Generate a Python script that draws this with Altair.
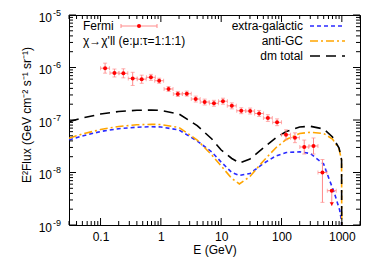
import altair as alt
import pandas as pd

# ---------------- data ----------------
fermi_E = [0.119, 0.170, 0.239, 0.341, 0.481, 0.684, 0.937, 1.34, 1.91, 2.69, 3.78, 5.32, 7.58,
           10.7, 15.0, 21.5, 30.2, 42.5, 59.4, 84.4, 118.7, 167, 238, 339, 477]
fermi_Elo = [0.100, 0.143, 0.202, 0.288, 0.406, 0.577, 0.790, 1.13, 1.61, 2.27, 3.19, 4.49, 6.39,
             9.02, 12.6, 18.1, 25.5, 35.8, 50.1, 71.2, 100, 141, 201, 286, 402]
fermi_Ehi = [0.141, 0.202, 0.283, 0.404, 0.570, 0.811, 1.111, 1.59, 2.27, 3.19, 4.48, 6.31, 8.99,
             12.7, 17.8, 25.5, 35.8, 50.4, 70.4, 100, 141, 198, 282, 402, 566]
fermi_F = [9.7e-7, 7.85e-7, 7.75e-7, 6.2e-7, 6.0e-7, 6.5e-7, 5.6e-7, 3.9e-7, 3.13e-7, 3.17e-7,
           2.51e-7, 2.2e-7, 2.08e-7, 2.28e-7, 1.86e-7, 1.5e-7, 1.48e-7, 1.33e-7, 1.09e-7, 9.04e-8,
           5.25e-8, 4.6e-8, 3.06e-8, 3.2e-8, 1.0e-8]
fermi_Flo = [7.8e-7, 6.6e-7, 6.35e-7, 4.55e-7, 5.0e-7, 5.7e-7, 5.0e-7, 3.5e-7, 2.8e-7, 2.85e-7,
             2.2e-7, 1.93e-7, 1.83e-7, 2.0e-7, 1.63e-7, 1.32e-7, 1.3e-7, 1.17e-7, 9.4e-8, 7.8e-8,
             4.2e-8, 3.7e-8, 2.25e-8, 2.25e-8, 2.7e-9]
fermi_Fhi = [1.21e-6, 9.35e-7, 9.45e-7, 8.1e-7, 7.15e-7, 7.4e-7, 6.25e-7, 4.35e-7, 3.5e-7, 3.55e-7,
             2.85e-7, 2.5e-7, 2.37e-7, 2.6e-7, 2.12e-7, 1.71e-7, 1.69e-7, 1.52e-7, 1.26e-7, 1.05e-7,
             6.5e-8, 5.7e-8, 4.15e-8, 4.55e-8, 1.77e-8]

# upper limit point
ul_E = [681]
ul_Elo = [574]
ul_Ehi = [808]
ul_F = [4.5e-9]
ul_Fend = [2.3e-9]

# model curves
eg_E = [0.03, 0.05, 0.1, 0.2, 0.4, 0.7, 1, 2, 4, 7, 10, 15, 20, 30, 50, 80, 120, 200, 300, 500,
        615, 740, 920, 990, 1000]
eg_F = [4.16e-8, 4.96e-8, 6.04e-8, 6.83e-8, 7.29e-8, 7.45e-8, 7.36e-8, 6.45e-8, 3.98e-8, 2.45e-8,
        1.58e-8, 1.0e-8, 8.77e-9, 9.57e-9, 1.48e-8, 2.06e-8, 2.4e-8, 2.48e-8, 2.3e-8, 1.45e-8,
        7.5e-9, 4.3e-9, 1.93e-9, 1.16e-9, 1e-10]

gc_E = [0.03, 0.05, 0.1, 0.2, 0.4, 0.7, 1, 2, 4, 7, 10, 15, 20, 30, 50, 80, 120, 200, 300, 500,
        700, 900, 990, 1000]
gc_F = [4.48e-8, 5.41e-8, 6.59e-8, 7.52e-8, 8.1e-8, 8.28e-8, 8.2e-8, 7.2e-8, 4.16e-8, 2.15e-8,
        1.33e-8, 7.7e-9, 6.04e-9, 8.4e-9, 1.66e-8, 2.93e-8, 4.26e-8, 5.53e-8, 5.83e-8, 5.53e-8,
        4.35e-8, 2.8e-8, 1.7e-8, 1e-10]

dm_E = [0.03, 0.05, 0.1, 0.2, 0.4, 0.7, 1, 2, 4, 7, 10, 15, 20, 30, 50, 80, 120, 200, 300, 500,
        700, 900, 990, 1000]
dm_F = [9.29e-8, 1.09e-7, 1.30e-7, 1.45e-7, 1.53e-7, 1.55e-7, 1.52e-7, 1.30e-7, 7.8e-8, 4.35e-8,
        2.68e-8, 1.85e-8, 1.52e-8, 1.81e-8, 2.93e-8, 4.54e-8, 6.04e-8, 7.36e-8, 7.59e-8, 6.74e-8,
        4.74e-8, 2.93e-8, 1.75e-8, 1e-10]

series_names = ["extra-galactic", "anti-GC", "dm total"]
series_colors = ["#2a2aff", "#ffa500", "#000000"]
series_dash = [[4, 3], [8, 3, 2, 3], [10, 6]]

x_major = [0.1, 1, 10, 100, 1000]
y_exps = [-9, -8, -7, -6, -5]

# ---------------- tables ----------------
W, H = 291, 210
FONT = "Liberation Sans"
ERR = "#ff8a8a"

curves = []
for name, Es, Fs in [("extra-galactic", eg_E, eg_F), ("anti-GC", gc_E, gc_F), ("dm total", dm_E, dm_F)]:
    for i, (e, f) in enumerate(zip(Es, Fs)):
        curves.append({"series": name, "E": e, "F": f, "order": i})
curves = pd.DataFrame(curves)

pts = pd.DataFrame({"E": fermi_E, "Elo": fermi_Elo, "Ehi": fermi_Ehi,
                    "F": fermi_F, "Flo": fermi_Flo, "Fhi": fermi_Fhi})
ul = pd.DataFrame({"E": ul_E, "Elo": ul_Elo, "Ehi": ul_Ehi, "F": ul_F, "Fend": ul_Fend})

x_minor = [k * 10.0 ** d for d in range(-2, 4) for k in range(2, 10) if 0.03 <= k * 10.0 ** d <= 2000]
y_major = [10.0 ** e for e in y_exps]
y_minor = [k * 10.0 ** d for d in range(-9, -5) for k in range(2, 10)]

xs = alt.Scale(type="log", domain=[0.03, 2000])
ys = alt.Scale(type="log", domain=[1e-9, 1e-5])

xaxis = alt.Axis(values=x_major, labelExpr="datum.value < 1 ? '0.1' : format(datum.value, 'd')",
                 ticks=False, domain=False, grid=False, labelFontSize=12, titleFontSize=12,
                 labelPadding=6, titlePadding=2, titleFontWeight="normal", labelColor="black",
                 titleColor="black", labelFont=FONT, titleFont=FONT, labelFlush=False)


def X(field):
    return alt.X(field, scale=xs, axis=xaxis, title="E (GeV)")


def Y(field):
    return alt.Y(field, scale=ys, axis=None)


# ---------------- layers ----------------
curve_layer = alt.Chart(curves).mark_line(clip=True, strokeWidth=1.6).encode(
    x=X("E:Q"),
    y=Y("F:Q"),
    color=alt.Color("series:N", scale=alt.Scale(domain=series_names, range=series_colors), legend=None),
    strokeDash=alt.StrokeDash("series:N", scale=alt.Scale(domain=series_names, range=series_dash), legend=None),
    order="order:Q",
)

base_pts = alt.Chart(pts)
vbar = base_pts.mark_rule(color=ERR, strokeWidth=1).encode(x=X("E:Q"), y=Y("Flo:Q"), y2="Fhi:Q")
hbar = base_pts.mark_rule(color=ERR, strokeWidth=1).encode(x=X("Elo:Q"), x2="Ehi:Q", y=Y("F:Q"))
cap_lo = base_pts.mark_tick(color=ERR, orient="horizontal", size=4, thickness=1).encode(x=X("E:Q"), y=Y("Flo:Q"))
cap_hi = base_pts.mark_tick(color=ERR, orient="horizontal", size=4, thickness=1).encode(x=X("E:Q"), y=Y("Fhi:Q"))
cap_l = base_pts.mark_tick(color=ERR, orient="vertical", size=4, thickness=1).encode(x=X("Elo:Q"), y=Y("F:Q"))
cap_r = base_pts.mark_tick(color=ERR, orient="vertical", size=4, thickness=1).encode(x=X("Ehi:Q"), y=Y("F:Q"))
dots = base_pts.mark_point(shape="circle", filled=True, size=16, color="#ff0000", opacity=1).encode(
    x=X("E:Q"), y=Y("F:Q"))

base_ul = alt.Chart(ul)
ul_v = base_ul.mark_rule(color=ERR, strokeWidth=1).encode(x=X("E:Q"), y=Y("F:Q"), y2="Fend:Q")
ul_h = base_ul.mark_rule(color=ERR, strokeWidth=1).encode(x=X("Elo:Q"), x2="Ehi:Q", y=Y("F:Q"))
ul_cl = base_ul.mark_tick(color=ERR, orient="vertical", size=4, thickness=1).encode(x=X("Elo:Q"), y=Y("F:Q"))
ul_cr = base_ul.mark_tick(color=ERR, orient="vertical", size=4, thickness=1).encode(x=X("Ehi:Q"), y=Y("F:Q"))
ul_head = base_ul.mark_point(shape="triangle-down", filled=True, size=18, color="#ff0000",
                             opacity=1, yOffset=-2).encode(x=X("E:Q"), y=Y("Fend:Q"))
ul_dot = base_ul.mark_point(shape="circle", filled=True, size=16, color="#ff0000", opacity=1).encode(
    x=X("E:Q"), y=Y("F:Q"))


# inward ticks on all four sides
def xticks(vals, length):
    d = pd.DataFrame({"v": vals})
    b = alt.Chart(d).mark_rule(color="black", strokeWidth=1)
    bot = b.encode(x=X("v:Q"), y=alt.value(H), y2=alt.value(H - length))
    top = b.encode(x=X("v:Q"), y=alt.value(0), y2=alt.value(length))
    return [bot, top]


def yticks(vals, length):
    d = pd.DataFrame({"v": vals})
    b = alt.Chart(d).mark_rule(color="black", strokeWidth=1)
    lef = b.encode(y=Y("v:Q"), x=alt.value(0), x2=alt.value(length))
    rig = b.encode(y=Y("v:Q"), x=alt.value(W), x2=alt.value(W - length))
    return [lef, rig]


tick_layers = xticks(x_major, 7) + xticks(x_minor, 4) + yticks(y_major, 7) + yticks(y_minor, 4)

# y tick labels 10^n
ylab = pd.DataFrame({"v": y_major, "exp": [str(e) for e in y_exps], "base": ["10"] * len(y_exps)})
ylab_base = alt.Chart(ylab).mark_text(align="right", baseline="middle", fontSize=12, font=FONT,
                                      dy=2.5, color="black").encode(
    y=Y("v:Q"), x=alt.value(-17), text="base:N")
ylab_exp = alt.Chart(ylab).mark_text(align="left", baseline="middle", fontSize=9, font=FONT,
                                     dy=-2.5, color="black").encode(
    y=Y("v:Q"), x=alt.value(-16), text="exp:N")

one = pd.DataFrame({"a": [0]})
ytitle = alt.Chart(one).mark_text(angle=270, fontSize=12, font=FONT, color="black",
                                  baseline="middle", align="center").encode(
    x=alt.value(-42), y=alt.value(100), text=alt.value("E²Flux (GeV cm⁻² s⁻¹ sr⁻¹)"))

# legends
leg = []
leg.append(alt.Chart(one).mark_text(align="left", baseline="middle", fontSize=12, font=FONT).encode(
    x=alt.value(14), y=alt.value(11), text=alt.value("Fermi")))
leg.append(alt.Chart(one).mark_rule(color=ERR, strokeWidth=1).encode(
    x=alt.value(52), x2=alt.value(88), y=alt.value(11)))
leg.append(alt.Chart(one).mark_rule(color=ERR, strokeWidth=1).encode(
    x=alt.value(52), y=alt.value(9), y2=alt.value(13)))
leg.append(alt.Chart(one).mark_rule(color=ERR, strokeWidth=1).encode(
    x=alt.value(88), y=alt.value(9), y2=alt.value(13)))
leg.append(alt.Chart(one).mark_point(shape="circle", filled=True, size=16, color="#ff0000", opacity=1).encode(
    x=alt.value(70), y=alt.value(11)))
leg.append(alt.Chart(one).mark_text(align="left", baseline="middle", fontSize=12, font=FONT).encode(
    x=alt.value(14), y=alt.value(26), text=alt.value("χ→χ'll (e:μ:τ=1:1:1)")))
for i, (name, col, dash) in enumerate(zip(series_names, series_colors, series_dash)):
    yy = 11 + 15 * i
    leg.append(alt.Chart(one).mark_text(align="right", baseline="middle", fontSize=12, font=FONT).encode(
        x=alt.value(234), y=alt.value(yy), text=alt.value(name)))
    leg.append(alt.Chart(one).mark_rule(color=col, strokeDash=dash, strokeWidth=1.6).encode(
        x=alt.value(241), x2=alt.value(276), y=alt.value(yy)))

chart = alt.layer(
    curve_layer, vbar, hbar, cap_lo, cap_hi, cap_l, cap_r, dots,
    ul_v, ul_h, ul_cl, ul_cr, ul_head, ul_dot,
    *tick_layers, ylab_base, ylab_exp, ytitle, *leg
).properties(
    width=W, height=H,
    autosize=alt.AutoSizeParams(type="none"),
    padding={"left": 61, "top": 7, "right": 11, "bottom": 34},
).configure_view(stroke="black", strokeWidth=1
).configure_text(font=FONT, color="black")

chart.save("out.html", embed_options={"renderer": "svg", "actions": False})
